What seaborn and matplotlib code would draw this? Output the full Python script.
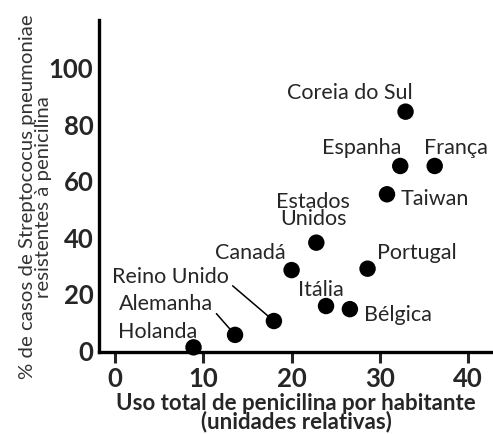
import numpy as np
import pandas as pd
import seaborn as sns
import matplotlib.pyplot as plt

# dados
paises = ["Holanda", "Alemanha", "Reino Unido", "Canadá", "Estados\nUnidos",
          "Itália", "Bélgica", "Portugal", "Taiwan", "Espanha", "França",
          "Coreia do Sul"]
uso_penicilina = [8.9, 13.6, 18.0, 20.0, 22.8, 23.9, 26.6, 28.6, 30.8, 32.3, 36.2, 32.9]
resistencia = [1.3, 5.7, 10.6, 28.6, 38.3, 15.9, 14.8, 29.1, 55.4, 65.4, 65.4, 84.6]
xticks = [0, 10, 20, 30, 40]
yticks = [0, 20, 40, 60, 80, 100]

df = pd.DataFrame({"pais": paises, "uso": uso_penicilina, "res": resistencia})

sns.set_style("white")
plt.rcParams["font.family"] = ["Lato", "DejaVu Sans"]

# posicao dos rotulos (pixels relativos ao ponto) e se leva linha
offsets = {
    "Holanda": (-36, 15, False),
    "Alemanha": (-69, 31, True),
    "Reino Unido": (-103, 44, True),
    "Canadá": (-41, 17, False),
    "Estados\nUnidos": (-3, 32, False),
    "Itália": (-5, 16, False),
    "Bélgica": (48, -6, False),
    "Portugal": (49, 16, False),
    "Taiwan": (48, -5, False),
    "Espanha": (-39, 18, False),
    "França": (21, 18, False),
    "Coreia do Sul": (-56, 19, False),
}

fig = plt.figure(figsize=(4.93, 4.34), dpi=100)
ax = fig.add_axes([99 / 493, 82 / 434, 394 / 493, 332 / 434])

sns.scatterplot(data=df, x="uso", y="res", ax=ax, color="black", s=140,
                edgecolor="none", zorder=5, clip_on=False)

for p, x, y in zip(paises, uso_penicilina, resistencia):
    dx, dy, linha = offsets[p]
    if linha:
        ax.annotate(p, (x, y), xytext=(dx, dy), textcoords="offset pixels",
                    ha="center", va="center", fontsize=15.5, linespacing=0.8,
                    arrowprops=dict(arrowstyle="-", color="black", lw=1.1,
                                    relpos=(1.0, 0.2), shrinkA=0, shrinkB=5))
    else:
        ax.annotate(p, (x, y), xytext=(dx, dy), textcoords="offset pixels",
                    ha="center", va="center", fontsize=15.5, linespacing=0.8)

ax.set_xlim(-1.8, 42.8)
ax.set_ylim(-0.35, 117)
ax.set_xticks(xticks)
ax.set_yticks(yticks)
ax.set_xticklabels([str(t) for t in xticks], fontsize=18.5, fontweight="bold")
ax.set_yticklabels([str(t) for t in yticks], fontsize=18.5, fontweight="bold")
ax.tick_params(axis="x", length=8, width=2.2, direction="out", pad=3, bottom=True)
ax.tick_params(axis="y", length=0, pad=4)

sns.despine(ax=ax)
for s in ["left", "bottom"]:
    ax.spines[s].set_linewidth(2.4)
    ax.spines[s].set_color("black")

ax.set_xlabel("Uso total de penicilina por habitante\n(unidades relativas)",
              fontsize=16, fontweight="bold", linespacing=0.85, labelpad=1)
ax.set_ylabel("% de casos de Streptococus pneumoniae\nresistentes à penicilina",
              fontsize=14.7, color="#333333", linespacing=0.9)
ax.yaxis.set_label_coords(-0.12, 0.467)

fig.savefig("out.png", dpi=100)
